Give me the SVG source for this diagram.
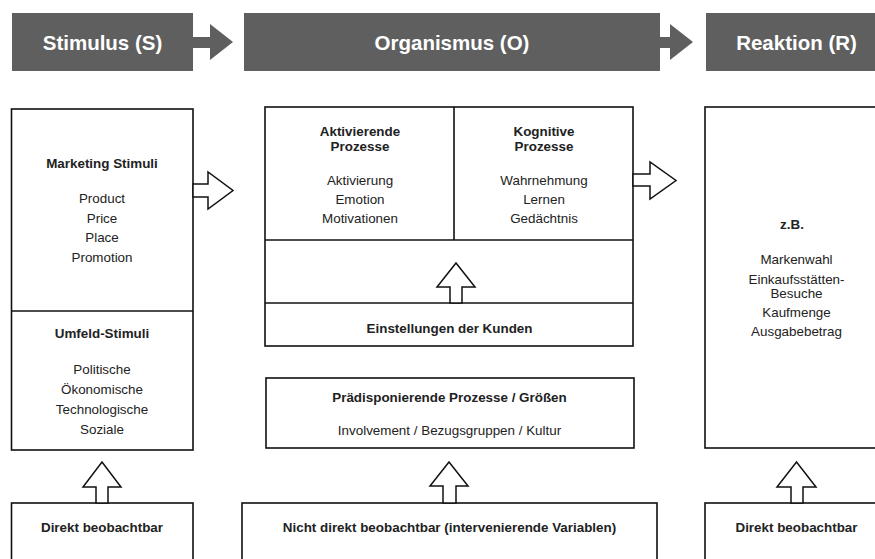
<svg xmlns="http://www.w3.org/2000/svg" width="875" height="559" viewBox="0 0 875 559">
<style>
.hdr{fill:#5f5f5f}
.box{fill:#fff;stroke:#111;stroke-width:1.6}
.ln{stroke:#111;stroke-width:1.6;fill:none}
.arr{fill:#fff;stroke:#111;stroke-width:1.5;stroke-linejoin:miter}
text{font-family:"Liberation Sans",Arial,Helvetica,sans-serif;font-size:13.4px;fill:#222;text-anchor:middle}
.b{font-weight:bold}
.ht{font-weight:bold;font-size:20.5px;fill:#fff}
</style>
<rect width="875" height="559" fill="#fff"/>
<g id="header-stimulus"><rect class="hdr" x="12" y="13" width="181" height="58"/><text class="ht" x="102.5" y="49.5">Stimulus (S)</text></g>
<g id="header-organismus"><rect class="hdr" x="244" y="13" width="416" height="58"/><text class="ht" x="452" y="49.5">Organismus (O)</text></g>
<g id="header-reaktion"><rect class="hdr" x="706" y="13" width="181" height="58"/><text class="ht" x="796.5" y="49.5">Reaktion (R)</text></g>

<g id="stimuli">
<rect class="box" x="11.5" y="109" width="181.5" height="341"/>
<line class="ln" x1="11.5" y1="311" x2="193" y2="311"/>
<text class="b" x="102" y="168">Marketing Stimuli</text>
<text x="102" y="203">Product</text>
<text x="102" y="222.5">Price</text>
<text x="102" y="242">Place</text>
<text x="102" y="261.5">Promotion</text>
<text class="b" x="102" y="338">Umfeld-Stimuli</text>
<text x="102" y="374">Politische</text>
<text x="102" y="394">Ökonomische</text>
<text x="102" y="414">Technologische</text>
<text x="102" y="434">Soziale</text>
</g>

<g id="organismus">
<rect class="box" x="265" y="107" width="368" height="239"/>
<line class="ln" x1="454" y1="107" x2="454" y2="240"/>
<line class="ln" x1="265" y1="240" x2="633" y2="240"/>
<line class="ln" x1="265" y1="303" x2="633" y2="303"/>
<text class="b" x="360" y="136">Aktivierende</text>
<text class="b" x="360" y="151">Prozesse</text>
<text x="360" y="185">Aktivierung</text>
<text x="360" y="204">Emotion</text>
<text x="360" y="223">Motivationen</text>
<text class="b" x="544" y="136">Kognitive</text>
<text class="b" x="544" y="151">Prozesse</text>
<text x="544" y="185">Wahrnehmung</text>
<text x="544" y="204">Lernen</text>
<text x="544" y="223">Gedächtnis</text>
<text class="b" x="449.5" y="333">Einstellungen der Kunden</text>
</g>

<g id="praedisponierende">
<rect class="box" x="266" y="378" width="368" height="70"/>
<text class="b" x="449.5" y="402">Prädisponierende Prozesse / Größen</text>
<text x="449.5" y="435">Involvement / Bezugsgruppen / Kultur</text>
</g>

<g id="reaktion">
<rect class="box" x="705" y="107" width="183" height="341"/>
<text class="b" x="792" y="229">z.B.</text>
<text x="796.5" y="263.5">Markenwahl</text>
<text x="796.5" y="283.5">Einkaufsstätten-</text>
<text x="796.5" y="297.5">Besuche</text>
<text x="796.5" y="317">Kaufmenge</text>
<text x="796.5" y="336">Ausgabebetrag</text>
</g>

<g id="direkt-links">
<rect class="box" x="11.5" y="503" width="181.5" height="70"/>
<text class="b" x="102" y="531.5">Direkt beobachtbar</text>
</g>
<g id="nicht-direkt">
<rect class="box" x="242" y="503" width="415" height="70"/>
<text class="b" x="449.5" y="531.5">Nicht direkt beobachtbar (intervenierende Variablen)</text>
</g>
<g id="direkt-rechts">
<rect class="box" x="705" y="503" width="183" height="70"/>
<text class="b" x="796.5" y="531.5">Direkt beobachtbar</text>
</g>

<g id="connectors">
<polygon class="hdr" points="193,37 210,37 210,24 233,42 210,60 210,48 193,48"/>
<polygon class="hdr" points="660,37 670,37 670,24 693,42 670,60 670,48 660,48"/>
<polygon class="arr" points="193,184 208,184 208,172 233,190.5 208,209 208,197 193,197"/>
<polygon class="arr" points="633,174 650,174 650,162 676,180.5 650,199 650,186 633,186"/>
<polygon class="arr" points="450,303 450,287 437,287 456,263 475,287 462,287 462,303"/>
<polygon class="arr" points="96,503 96,487 83,487 102,462 121,487 108,487 108,503"/>
<polygon class="arr" points="443,503 443,486 430,486 449,462 468,486 456,486 456,503"/>
<polygon class="arr" points="791,503 791,487 777,487 796.5,462 816,487 803,487 803,503"/>
</g>
</svg>
